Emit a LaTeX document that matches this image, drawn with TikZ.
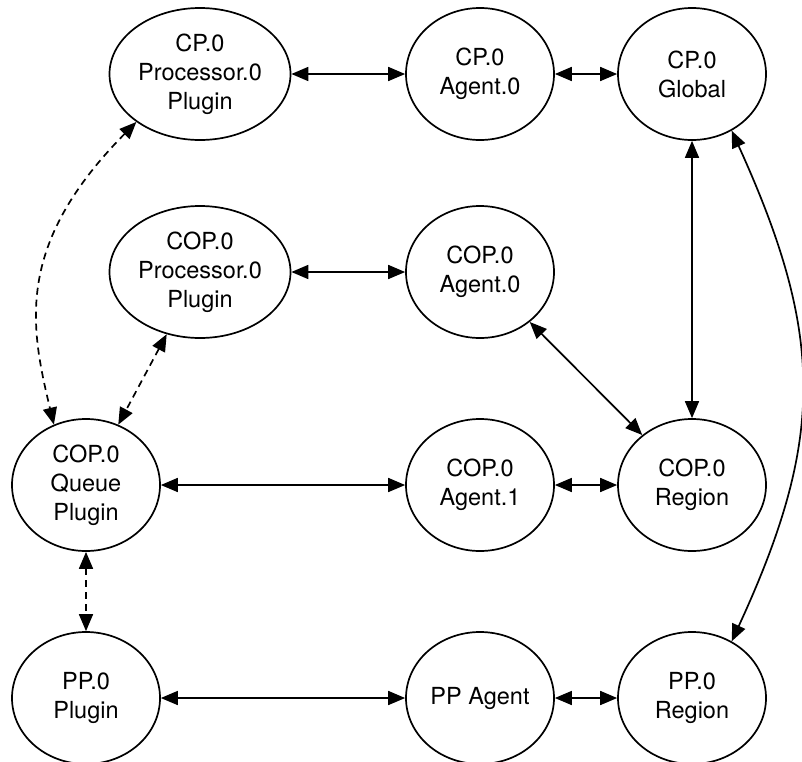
\documentclass[tikz,border=0pt]{standalone}
\usepackage{fontspec}
\setmainfont{TeX Gyre Heros}
\usetikzlibrary{shapes.geometric,arrows.meta}
\begin{document}
\begin{tikzpicture}[x=1pt,y=-1pt,
  state/.style={ellipse,draw,line width=1.7pt,inner sep=0pt,
    minimum width=148pt,minimum height=132pt,align=center,
    font=\fontsize{23.5}{29}\selectfont},
  widestate/.style={state,minimum width=181pt},
  link/.style={line width=1.7pt,
    {Triangle[length=17pt,width=14pt]}-{Triangle[length=17pt,width=14pt]}},
  weak/.style={link,dash pattern=on 7pt off 5pt}]
\useasboundingbox (0,0) rectangle (802,761);

% control plane
\node[widestate] (cpp) at (200,74)   {CP.0\\Processor.0\\Plugin};
\node[state]     (cpa) at (480,74)   {CP.0\\Agent.0};
\node[state]     (cpg) at (692,74)   {CP.0\\Global};

% control-of-processing plane
\node[widestate] (copp) at (200,272) {COP.0\\Processor.0\\Plugin};
\node[state]     (copa) at (480,272) {COP.0\\Agent.0};
\node[state]     (copq) at (86,485)  {COP.0\\Queue\\Plugin};
\node[state]     (copb) at (480,485) {COP.0\\Agent.1};
\node[state]     (copr) at (692,485) {COP.0\\Region};

% processing plane
\node[state] (ppp) at (86,698)  {PP.0\\Plugin};
\node[state] (ppa) at (480,698) {PP Agent};
\node[state] (ppr) at (692,698) {PP.0\\Region};

% solid links
\draw[link] (cpp) -- (cpa);
\draw[link] (cpa) -- (cpg);
\draw[link] (copp) -- (copa);
\draw[link] (copq) -- (copb);
\draw[link] (copb) -- (copr);
\draw[link] (ppp) -- (ppa);
\draw[link] (ppa) -- (ppr);
\draw[link] (cpg) -- (copr);
\draw[link] (copa) -- (copr);
\draw[link] (cpg.-55) .. controls (825,336) and (825,439) .. (ppr.55);

% plugin links
\draw[weak] (cpp.-143) .. controls (15,245) and (30,325) .. (copq.118);
\draw[weak] (copp) -- (copq);
\draw[weak] (copq) -- (ppp);
\end{tikzpicture}
\end{document}
